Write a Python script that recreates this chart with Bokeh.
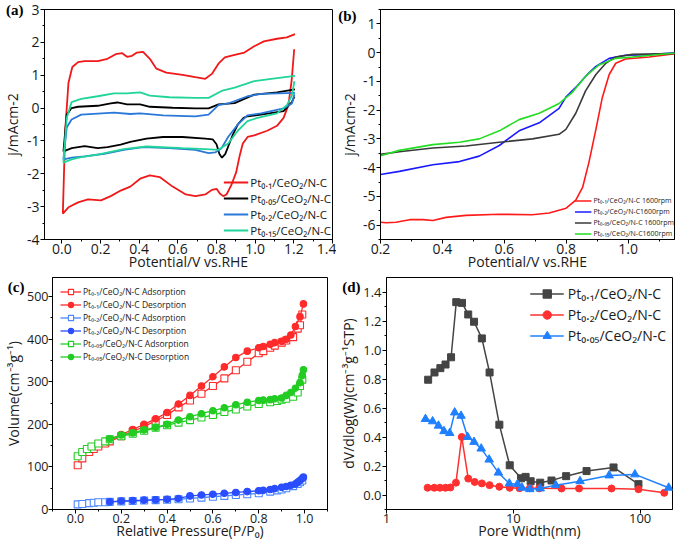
from bokeh.plotting import figure
from bokeh.layouts import column, row
from bokeh.models import (Legend, LegendItem, LinearAxis, FixedTicker, SingleIntervalTicker, LogTicker,
                          PrintfTickFormatter, Range1d)
from bokeh.embed import file_html
from bokeh.resources import INLINE

# ---------------- data: (a) CV curves (cathodic branch from 1.2 V down, then anodic branch up) ----
a_pt01_x = [1.202, 1.189, 1.172, 1.147, 1.113, 1.062, 0.995, 0.961, 0.936, 0.919, 0.902, 0.877, 0.852, 0.835,
            0.818, 0.801, 0.776, 0.742, 0.691, 0.641, 0.573, 0.506, 0.455, 0.405, 0.354, 0.304, 0.253, 0.202,
            0.135, 0.084, 0.034, 0.005,
            0.017, 0.034, 0.054, 0.084, 0.118, 0.185, 0.236, 0.278, 0.312, 0.337, 0.363, 0.388, 0.42, 0.455,
            0.489, 0.54, 0.624, 0.69, 0.742, 0.776, 0.81, 0.843, 0.894, 0.944, 0.995, 1.045, 1.113, 1.164, 1.206]
a_pt01_y = [1.79, 0.86, 0.09, -0.30, -0.54, -0.69, -0.83, -0.88, -1.08, -1.47, -1.95, -2.34, -2.63, -2.68,
            -2.61, -2.46, -2.49, -2.63, -2.68, -2.63, -2.39, -2.10, -2.05, -2.15, -2.39, -2.51, -2.68, -2.81,
            -2.78, -2.87, -3.02, -3.21,
            -0.69, 0.77, 1.25, 1.40, 1.43, 1.43, 1.50, 1.64, 1.67, 1.56, 1.59, 1.69, 1.71, 1.50,
            1.20, 1.08, 1.01, 0.94, 0.89, 1.04, 1.35, 1.54, 1.62, 1.69, 1.88, 2.03, 2.11, 2.15, 2.25]
a_pt005_x = [1.203, 1.19, 1.147, 1.03, 0.96, 0.94, 0.91, 0.885, 0.865, 0.845, 0.828, 0.815, 0.80, 0.78,
             0.742, 0.624, 0.523, 0.438, 0.354, 0.304, 0.236, 0.185, 0.118, 0.051, 0.008,
             0.025, 0.05, 0.084, 0.185, 0.253, 0.287, 0.337, 0.405, 0.455, 0.573, 0.69, 0.759, 0.81,
             0.894, 0.944, 0.995, 1.113, 1.206]
a_pt005_y = [0.35, 0.18, -0.09, -0.2, -0.25, -0.3, -0.5, -0.8, -1.1, -1.4, -1.51, -1.4, -1.1, -0.95,
             -0.93, -0.88, -0.88, -0.93, -1.03, -1.11, -1.19, -1.22, -1.16, -1.22, -1.32,
             -0.2, 0.0, 0.04, 0.07, 0.14, 0.17, 0.11, 0.11, 0.04, 0.01, -0.01, -0.01, 0.11,
             0.15, 0.28, 0.41, 0.48, 0.57]
a_pt02_x = [1.203, 1.19, 1.147, 1.03, 0.96, 0.91, 0.86, 0.826, 0.793, 0.759, 0.69, 0.556, 0.42, 0.32,
            0.219, 0.118, 0.051, 0.008,
            0.025, 0.05, 0.1, 0.185, 0.27, 0.354, 0.405, 0.523, 0.69, 0.759, 0.81, 0.86, 0.961, 1.03, 1.206]
a_pt02_y = [0.42, 0.14, -0.01, -0.16, -0.22, -0.5, -0.88, -1.22, -1.35, -1.37, -1.27, -1.22, -1.19, -1.27,
            -1.39, -1.47, -1.51, -1.56,
            -0.59, -0.35, -0.2, -0.17, -0.14, -0.18, -0.16, -0.22, -0.25, -0.2, 0.09, 0.14, 0.36, 0.43, 0.46]
a_pt015_x = [1.203, 1.19, 1.164, 1.113, 1.012, 0.96, 0.91, 0.86, 0.81, 0.742, 0.624, 0.438, 0.32, 0.185,
             0.1, 0.05, 0.008,
             0.025, 0.05, 0.1, 0.185, 0.27, 0.337, 0.405, 0.455, 0.556, 0.69, 0.759, 0.826, 0.894, 0.995,
             1.113, 1.206]
a_pt015_y = [0.82, 0.38, 0.09, -0.16, -0.30, -0.4, -0.69, -1.08, -1.27, -1.25, -1.22, -1.17, -1.25, -1.42,
             -1.49, -1.56, -1.66,
             -0.3, 0.18, 0.28, 0.36, 0.45, 0.45, 0.48, 0.38, 0.33, 0.31, 0.31, 0.52, 0.62, 0.82,
             0.91, 0.98]
a_labels = ["Pt\u2080.\u2081/CeO\u2082/N-C", "Pt\u2080.\u2080\u2085/CeO\u2082/N-C",
            "Pt\u2080.\u2082/CeO\u2082/N-C", "Pt\u2080.\u2081\u2085/CeO\u2082/N-C"]

# ---------------- data: (b) LSV ----------------
b_pt01_x = [0.2, 0.218, 0.25, 0.294, 0.337, 0.369, 0.412, 0.476, 0.584, 0.69, 0.745, 0.8, 0.831, 0.853,
            0.874, 0.896, 0.917, 0.939, 0.96, 0.992, 1.068, 1.154]
b_pt01_y = [-5.9, -5.92, -5.9, -5.81, -5.81, -5.84, -5.73, -5.66, -5.62, -5.64, -5.58, -5.41, -5.13, -4.69,
            -3.79, -2.67, -1.55, -0.76, -0.37, -0.22, -0.15, -0.03]
b_pt02_x = [0.2, 0.261, 0.369, 0.455, 0.519, 0.584, 0.648, 0.713, 0.777, 0.799, 0.831, 0.863, 0.896,
            0.939, 0.992, 1.068, 1.154]
b_pt02_y = [-4.24, -4.13, -3.9, -3.79, -3.6, -3.23, -2.72, -2.44, -1.94, -1.55, -1.21, -0.82, -0.48,
            -0.2, -0.09, -0.07, 0.0]
b_pt005_x = [0.2, 0.261, 0.369, 0.476, 0.584, 0.691, 0.777, 0.799, 0.831, 0.863, 0.896, 0.928, 0.96,
             1.014, 1.154]
b_pt005_y = [-3.54, -3.45, -3.32, -3.25, -3.12, -3.0, -2.84, -2.67, -2.11, -1.32, -0.76, -0.37, -0.15,
             -0.06, -0.03]
b_pt015_x = [0.2, 0.261, 0.369, 0.455, 0.519, 0.584, 0.648, 0.713, 0.777, 0.82, 0.863, 0.906, 0.96,
             1.014, 1.154]
b_pt015_y = [-3.59, -3.4, -3.2, -3.12, -3.0, -2.72, -2.33, -2.11, -1.77, -1.38, -0.82, -0.43, -0.2,
             -0.15, -0.01]
b_labels = ["Pt\u2080.\u2081/CeO\u2082/N-C 1600rpm", "Pt\u2080.\u2082/CeO\u2082/N-C1600rpm",
            "Pt\u2080.\u2080\u2085/CeO\u2082/N-C 1600rpm", "Pt\u2080.\u2081\u2085/CeO\u2082/N-C1600rpm"]

# ---------------- data: (c) N2 isotherms ----------------
c_pt01_ads_p = [0.01, 0.03, 0.06, 0.08, 0.1, 0.13, 0.15, 0.2, 0.25, 0.3, 0.35, 0.4, 0.45, 0.5, 0.55, 0.6,
                0.65, 0.7, 0.75, 0.8, 0.82, 0.85, 0.87, 0.9, 0.92, 0.95, 0.97, 0.98, 0.99]
c_pt01_ads_v = [104, 120, 135, 142, 148, 155, 160, 172, 183, 195, 208, 222, 240, 256, 272, 290,
                308, 327, 347, 367, 372, 380, 385, 392, 397, 405, 425, 433, 458]
c_pt01_des_p = [0.995, 0.98, 0.96, 0.94, 0.92, 0.9, 0.87, 0.85, 0.82, 0.8, 0.75, 0.7, 0.65, 0.6, 0.55,
                0.5, 0.45, 0.4, 0.35, 0.3, 0.25, 0.2, 0.15]
c_pt01_des_v = [483, 453, 430, 410, 400, 395, 392, 388, 383, 380, 372, 357, 335, 312, 290,
                268, 248, 228, 213, 200, 188, 176, 165]
c_pt02_ads_p = [0.01, 0.03, 0.06, 0.08, 0.1, 0.13, 0.15, 0.2, 0.25, 0.3, 0.35, 0.4, 0.45, 0.5, 0.55, 0.6,
                0.65, 0.7, 0.75, 0.8, 0.85, 0.88, 0.9, 0.92, 0.95, 0.97, 0.98, 0.99]
c_pt02_ads_v = [12, 13, 15, 16, 17, 17, 18, 19, 20, 21, 22, 23, 24, 26, 28, 30,
                32, 34, 36, 38, 42, 45, 47, 50, 55, 60, 64, 68]
c_pt02_des_p = [0.995, 0.99, 0.98, 0.97, 0.96, 0.94, 0.92, 0.9, 0.87, 0.85, 0.82, 0.8, 0.75, 0.7, 0.65,
                0.6, 0.55, 0.5, 0.45, 0.4, 0.35, 0.3, 0.25, 0.2, 0.15]
c_pt02_des_v = [76, 73, 68, 64, 60, 57, 54, 52, 49, 47, 45, 44, 42, 40, 38,
                36, 34, 32, 26, 24, 23, 22, 21, 20, 18]
c_pt005_ads_p = [0.01, 0.03, 0.05, 0.07, 0.1, 0.13, 0.15, 0.2, 0.25, 0.3, 0.35, 0.4, 0.45, 0.5, 0.55, 0.6,
                 0.65, 0.7, 0.75, 0.8, 0.85, 0.88, 0.9, 0.92, 0.95, 0.97, 0.98, 0.99]
c_pt005_ads_v = [125, 135, 142, 148, 155, 160, 165, 172, 178, 185, 192, 198, 204, 210, 216, 222,
                 229, 235, 242, 248, 252, 255, 258, 260, 265, 275, 290, 305]
c_pt005_des_p = [0.995, 0.99, 0.98, 0.96, 0.94, 0.92, 0.9, 0.87, 0.85, 0.82, 0.8, 0.75, 0.7, 0.65, 0.6,
                 0.55, 0.5, 0.45, 0.4, 0.35, 0.3, 0.25, 0.2, 0.15]
c_pt005_des_v = [328, 315, 298, 285, 275, 268, 262, 260, 258, 257, 256, 252, 246, 239, 232,
                 225, 218, 210, 200, 193, 187, 180, 175, 166]
c_labels = ["Pt\u2080.\u2081/CeO\u2082/N-C Adsorption", "Pt\u2080.\u2081/CeO\u2082/N-C Desorption",
            "Pt\u2080.\u2082/CeO\u2082/N-C Adsorption", "Pt\u2080.\u2082/CeO\u2082/N-C Desorption",
            "Pt\u2080.\u2080\u2085/CeO\u2082/N-C Adsorption", "Pt\u2080.\u2080\u2085/CeO\u2082/N-C Desorption"]

# ---------------- data: (d) pore size distribution ----------------
d_pt01_w = [2.13, 2.39, 2.66, 2.92, 3.23, 3.55, 3.94, 4.41, 4.9, 5.65, 6.5, 7.76, 9.37, 11.5, 12.5, 13.7,
            16.3, 20.0, 26.1, 37.8, 61.7, 97]
d_pt01_v = [0.795, 0.845, 0.875, 0.9, 0.95, 1.33, 1.325, 1.245, 1.195, 1.08, 0.845, 0.485, 0.205, 0.115,
            0.125, 0.095, 0.085, 0.1, 0.13, 0.165, 0.19, 0.075]
d_pt02_w = [2.11, 2.38, 2.64, 2.92, 3.19, 3.53, 3.92, 4.41, 4.96, 5.65, 6.5, 7.76, 9.37, 11.2, 13.5, 16,
            24, 33, 59.5, 97, 155]
d_pt02_v = [0.05, 0.05, 0.05, 0.05, 0.052, 0.085, 0.4, 0.113, 0.09, 0.08, 0.068, 0.057, 0.05, 0.047,
            0.047, 0.046, 0.045, 0.045, 0.045, 0.04, 0.015]
d_pt005_w = [2.03, 2.31, 2.57, 2.84, 3.15, 3.45, 3.87, 4.36, 4.9, 5.58, 6.45, 7.63, 9.3, 10.8, 11.7,
             13.5, 16.3, 21.6, 33.6, 57, 91, 168]
d_pt005_v = [0.524, 0.508, 0.478, 0.44, 0.427, 0.569, 0.546, 0.4, 0.366, 0.32, 0.244, 0.154, 0.079,
             0.075, 0.05, 0.04, 0.045, 0.068, 0.095, 0.135, 0.142, 0.05]
d_labels = ["Pt\u2080.\u2081/CeO\u2082/N-C", "Pt\u2080.\u2082/CeO\u2082/N-C", "Pt\u2080.\u2080\u2085/CeO\u2082/N-C"]

FONT = "Open Sans"
TXT = "#1a1a1a"


def style(p, tick_size="14px", label_size="14px"):
    for ax in (p.xaxis[0], p.yaxis[0]):
        ax.axis_line_color = "black"
        ax.axis_line_width = 1
        ax.major_tick_out = 4
        ax.major_tick_in = 0
        ax.minor_tick_out = 2
        ax.minor_tick_in = 0
        ax.major_tick_line_color = "black"
        ax.minor_tick_line_color = "black"
        ax.major_label_text_font = FONT
        ax.major_label_text_font_size = tick_size
        ax.major_label_text_color = TXT
        ax.axis_label_text_font = FONT
        ax.axis_label_text_font_size = label_size
        ax.axis_label_text_font_style = "normal"
        ax.axis_label_text_color = TXT
    p.xaxis[0].major_label_standoff = 0
    p.xaxis[0].axis_label_standoff = -5
    p.yaxis[0].major_label_standoff = 1
    p.xgrid.visible = False
    p.ygrid.visible = False
    p.outline_line_color = "black"
    p.outline_line_alpha = 1
    p.outline_line_width = 1


def label_axis(p, letter, ylabel, tick_pos, label_standoff, axis_standoff, label_size="14px"):
    """Outer left axis without line/ticks: carries the panel letter as its single tick label
    and the y-axis title, so both sit in the left margin like in the reference."""
    p.extra_y_ranges = {"lab": Range1d(0, 1)}
    ax = LinearAxis(y_range_name="lab", ticker=FixedTicker(ticks=[tick_pos], minor_ticks=[]),
                    formatter=PrintfTickFormatter(format=letter), axis_label=ylabel,
                    axis_line_color=None, major_tick_line_color=None, minor_tick_line_color=None,
                    major_tick_out=0, major_tick_in=0, minor_tick_out=0, minor_tick_in=0,
                    major_label_standoff=label_standoff, axis_label_standoff=axis_standoff,
                    major_label_text_font="Liberation Serif", major_label_text_font_style="bold",
                    major_label_text_font_size="15px", major_label_text_color="black",
                    axis_label_text_font=FONT, axis_label_text_font_size=label_size,
                    axis_label_text_font_style="normal", axis_label_text_color=TXT)
    p.add_layout(ax, "left")


def make_legend(p, items, font_size, gw, gh, standoff, **kw):
    leg = Legend(items=items, label_text_font=FONT, label_text_font_size=font_size,
                 label_text_color=TXT, glyph_width=gw, glyph_height=gh, label_height=gh,
                 label_standoff=standoff, spacing=0, padding=0, border_line_color=None,
                 background_fill_alpha=0, **kw)
    p.add_layout(leg)
    return leg


# ---------------- (a) ----------------
pa = figure(width=336, height=276, x_range=Range1d(-0.09, 1.4001), y_range=Range1d(-4, 3),
            output_backend="svg", toolbar_location=None,
            min_border_left=37, min_border_right=4, min_border_top=9, min_border_bottom=37,
            x_axis_label="Potential/V vs.RHE")
style(pa)
pa.xaxis[0].ticker = SingleIntervalTicker(interval=0.2, num_minor_ticks=2)
pa.xaxis[0].formatter = PrintfTickFormatter(format="%.1f")
pa.yaxis[0].ticker = SingleIntervalTicker(interval=1, num_minor_ticks=2)
pa.yaxis[0].formatter = PrintfTickFormatter(format="%d")
label_axis(pa, "(a)", "j/mAcm-2", 1.0, 0, -19)
ra1 = pa.line(a_pt01_x, a_pt01_y, line_color="#f01818", line_width=1.8)
ra2 = pa.line(a_pt005_x, a_pt005_y, line_color="#000000", line_width=1.8)
ra3 = pa.line(a_pt02_x, a_pt02_y, line_color="#2a78d8", line_width=1.8)
ra4 = pa.line(a_pt015_x, a_pt015_y, line_color="#20d49a", line_width=1.8)
make_legend(pa, [LegendItem(label=l, renderers=[r]) for l, r in zip(a_labels, [ra1, ra2, ra3, ra4])],
            "11.5px", 25, 16, 2, location="bottom_right", margin=1)

# ---------------- (b) ----------------
pb = figure(width=339, height=276, x_range=Range1d(0.2, 1.15), y_range=Range1d(-6.5, 1.5),
            output_backend="svg", toolbar_location=None,
            min_border_left=44, min_border_right=1, min_border_top=2, min_border_bottom=37,
            x_axis_label="Potential/V vs.RHE")
style(pb)
pb.xaxis[0].ticker = SingleIntervalTicker(interval=0.2, num_minor_ticks=2)
pb.xaxis[0].formatter = PrintfTickFormatter(format="%.1f")
pb.yaxis[0].ticker = SingleIntervalTicker(interval=1, num_minor_ticks=2)
pb.yaxis[0].formatter = PrintfTickFormatter(format="%d")
label_axis(pb, "(b)", "j/mAcm-2", 0.97, 3, -24)
rb1 = pb.line(b_pt01_x, b_pt01_y, line_color="#ff1a1a", line_width=1.6)
rb2 = pb.line(b_pt02_x, b_pt02_y, line_color="#1a1aff", line_width=1.6)
rb3 = pb.line(b_pt005_x, b_pt005_y, line_color="#3a3a3a", line_width=1.6)
rb4 = pb.line(b_pt015_x, b_pt015_y, line_color="#22dd22", line_width=1.6)
make_legend(pb, [LegendItem(label=l, renderers=[r]) for l, r in zip(b_labels, [rb1, rb2, rb3, rb4])],
            "7px", 17, 11, 2, location="bottom_right", margin=0)

# ---------------- (c) ----------------
pc = figure(width=336, height=268, x_range=Range1d(-0.1, 1.1), y_range=Range1d(0, 545),
            output_backend="svg", toolbar_location=None,
            min_border_left=34, min_border_right=9, min_border_top=1, min_border_bottom=35,
            x_axis_label="Relative Pressure(P/P\u2080)")
style(pc, tick_size="12.5px")
pc.yaxis[0].major_label_standoff = 0
pc.xaxis[0].ticker = SingleIntervalTicker(interval=0.2, num_minor_ticks=2)
pc.xaxis[0].formatter = PrintfTickFormatter(format="%.1f")
pc.yaxis[0].ticker = SingleIntervalTicker(interval=100, num_minor_ticks=2)
pc.yaxis[0].formatter = PrintfTickFormatter(format="%d")
label_axis(pc, "(c)", "Volume(cm\u207b\u00b3g\u207b\u00b9)", 0.96, 0, -18)
c_series = [
    (c_pt01_ads_p, c_pt01_ads_v, "#ff2a2a", "square", False),
    (c_pt01_des_p, c_pt01_des_v, "#ff2a2a", "circle", True),
    (c_pt02_ads_p, c_pt02_ads_v, "#4a86ff", "square", False),
    (c_pt02_des_p, c_pt02_des_v, "#2a4dff", "circle", True),
    (c_pt005_ads_p, c_pt005_ads_v, "#22cc22", "square", False),
    (c_pt005_des_p, c_pt005_des_v, "#22cc22", "circle", True),
]
c_items = []
for (xs, ys, col, mk, filled), lab in zip(c_series, c_labels):
    ln = pc.line(xs, ys, line_color=col, line_width=1.3)
    sc = pc.scatter(xs, ys, marker=mk, size=7 if mk == "square" else 6.5, line_color=col,
                    fill_color=col if filled else "white", line_width=1.1)
    c_items.append(LegendItem(label=lab, renderers=[ln, sc]))
make_legend(pc, c_items, "8.5px", 21, 13, 2, location="top_left", margin=8)

# ---------------- (d) ----------------
pd_ = figure(width=339, height=268, x_axis_type="log", x_range=Range1d(1, 180), y_range=Range1d(-0.1, 1.5),
             output_backend="svg", toolbar_location=None,
             min_border_left=44, min_border_right=3, min_border_top=1, min_border_bottom=35,
             x_axis_label="Pore Width(nm)")
style(pd_, tick_size="13px")
pd_.xaxis[0].ticker = LogTicker(num_minor_ticks=10)
pd_.xaxis[0].minor_tick_line_color = None
pd_.xaxis[0].formatter = PrintfTickFormatter(format="%d")
pd_.yaxis[0].ticker = SingleIntervalTicker(interval=0.2, num_minor_ticks=2)
pd_.yaxis[0].formatter = PrintfTickFormatter(format="%.1f")
label_axis(pd_, "(d)", "dV/dlog(W)(cm\u207b\u00b3g\u207b\u00b9STP)", 0.96, 0, -19)
d_series = [
    (d_pt01_w, d_pt01_v, "#444444", "square", 7),
    (d_pt02_w, d_pt02_v, "#ff3030", "circle", 7),
    (d_pt005_w, d_pt005_v, "#1f80ff", "triangle", 8.5),
]
d_items = []
for (xs, ys, col, mk, sz), lab in zip(d_series, d_labels):
    ln = pd_.line(xs, ys, line_color=col, line_width=1.5)
    sc = pd_.scatter(xs, ys, marker=mk, size=sz, line_color=col, fill_color=col)
    d_items.append(LegendItem(label=lab, renderers=[ln, sc]))
make_legend(pd_, d_items, "14px", 34, 21, 4, location="top_right", margin=6)

layout = column(row(pa, pb), row(pc, pd_))
open("out.html", "w").write(file_html(layout, INLINE))
